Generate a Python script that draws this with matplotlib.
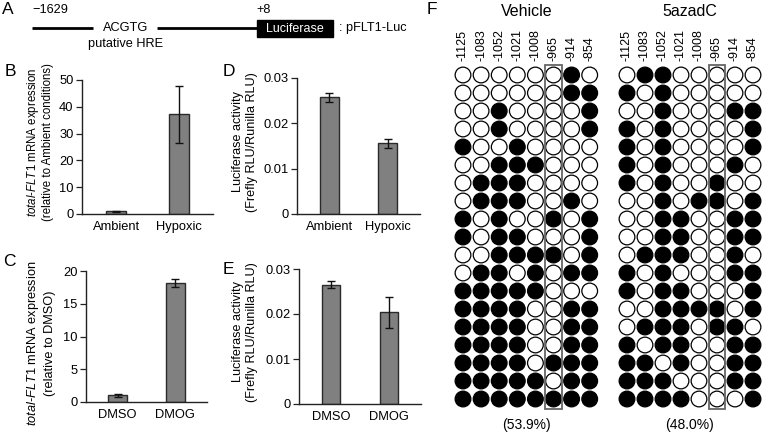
import matplotlib
matplotlib.use('Agg')
import matplotlib.pyplot as plt
from matplotlib.patches import Rectangle
import numpy as np

plt.rcParams['font.family'] = ['Liberation Sans', 'DejaVu Sans']
plt.rcParams['mathtext.fontset'] = 'custom'
plt.rcParams['mathtext.rm'] = 'Liberation Sans'
plt.rcParams['mathtext.it'] = 'Liberation Sans:italic'

# ---------------- data ----------------
b_cats = ['Ambient', 'Hypoxic']
b_vals = [1.0, 37.2]
b_errs = [0.3, 10.6]

c_cats = ['DMSO', 'DMOG']
c_vals = [1.0, 18.2]
c_errs = [0.2, 0.6]

d_cats = ['Ambient', 'Hypoxic']
d_vals = [0.0257, 0.0156]
d_errs = [0.0011, 0.0010]

e_cats = ['DMSO', 'DMOG']
e_vals = [0.0265, 0.0204]
e_errs = [0.0008, 0.0034]

cpg_sites = ['-1125', '-1083', '-1052', '-1021', '-1008', '-965', '-914', '-854']

vehicle_meth = [
    [0, 0, 0, 0, 0, 0, 1, 0],
    [0, 0, 0, 0, 0, 0, 1, 1],
    [0, 0, 1, 0, 0, 0, 0, 1],
    [0, 0, 1, 0, 0, 0, 0, 1],
    [1, 0, 0, 1, 0, 0, 0, 0],
    [0, 0, 1, 1, 1, 0, 0, 0],
    [0, 1, 1, 1, 0, 0, 0, 0],
    [0, 1, 1, 1, 0, 0, 1, 0],
    [1, 0, 1, 0, 0, 1, 0, 1],
    [1, 0, 1, 1, 0, 0, 0, 1],
    [0, 0, 1, 1, 1, 1, 0, 1],
    [0, 1, 1, 0, 1, 0, 1, 1],
    [1, 1, 1, 1, 1, 0, 0, 0],
    [1, 1, 1, 1, 0, 0, 1, 1],
    [1, 1, 1, 1, 0, 0, 1, 1],
    [1, 1, 1, 1, 0, 0, 1, 1],
    [1, 1, 1, 1, 0, 1, 1, 1],
    [1, 1, 1, 1, 1, 0, 1, 1],
    [1, 1, 1, 1, 1, 1, 1, 1],
]

azadc_meth = [
    [0, 1, 1, 0, 0, 0, 0, 0],
    [1, 0, 1, 0, 0, 0, 0, 0],
    [0, 0, 1, 0, 0, 0, 1, 1],
    [1, 0, 1, 0, 0, 0, 0, 1],
    [1, 0, 1, 0, 0, 0, 0, 1],
    [1, 0, 1, 0, 0, 0, 1, 0],
    [1, 0, 1, 0, 0, 1, 0, 0],
    [0, 0, 1, 0, 1, 1, 0, 1],
    [0, 0, 1, 1, 0, 0, 1, 1],
    [0, 0, 1, 1, 0, 0, 1, 1],
    [0, 1, 1, 1, 0, 0, 1, 0],
    [1, 0, 1, 0, 0, 0, 1, 1],
    [1, 0, 1, 1, 0, 0, 0, 1],
    [0, 0, 1, 1, 1, 1, 0, 1],
    [0, 1, 1, 1, 0, 1, 1, 0],
    [1, 0, 1, 1, 0, 0, 1, 1],
    [1, 1, 0, 1, 0, 0, 1, 1],
    [1, 1, 1, 0, 0, 0, 1, 1],
    [1, 1, 1, 1, 0, 0, 0, 1],
]

vehicle_title = 'Vehicle'
azadc_title = '5azadC'
vehicle_pct = '(53.9%)'
azadc_pct = '(48.0%)'

# ---------------- layout helpers ----------------
W, H = 764, 434
fig = plt.figure(figsize=(W / 100, H / 100), dpi=100)


def rect(x0, y0, x1, y1):
    return [x0 / W, 1 - y1 / H, (x1 - x0) / W, (y1 - y0) / H]


def fx(x):
    return x / W


def fy(y):
    return 1 - y / H


# ---------------- panel A (schematic) ----------------
axA = fig.add_axes([0, 0, 1, 1])
axA.set_xlim(0, W)
axA.set_ylim(H, 0)
axA.axis('off')
axA.plot([32, 93], [28, 28], color='black', lw=2.0, solid_capstyle='butt')
axA.plot([157, 258], [28, 28], color='black', lw=2.0, solid_capstyle='butt')
axA.add_patch(Rectangle((257, 20), 76, 17, facecolor='black', edgecolor='black'))
axA.text(295, 28.5, 'Luciferase', color='white', ha='center', va='center', fontsize=9)
axA.text(32, 10, '\u22121629', ha='left', va='center', fontsize=9.2)
axA.text(256, 10, '+8', ha='left', va='center', fontsize=9.2)
axA.text(126, 28, 'ACGTG', ha='center', va='center', fontsize=9.2)
axA.text(126, 43.5, 'putative HRE', ha='center', va='center', fontsize=9.2)
axA.text(339, 28, ': pFLT1-Luc', ha='left', va='center', fontsize=9.2)

# panel letters
for letter, (x, y) in {'A': (8, 10), 'B': (10, 71), 'C': (9, 262),
                       'D': (229, 71), 'E': (228, 270), 'F': (432, 10)}.items():
    fig.text(fx(x), fy(y), letter, ha='center', va='center', fontsize=12.5)


# ---------------- bar panels ----------------
def bar_panel(box, cats, vals, errs, ymax, yticks, yticklabels):
    ax = fig.add_axes(rect(*box))
    x = np.arange(len(cats))
    ax.bar(x, vals, width=0.32, color='#808080', edgecolor='#2a2a2a',
           linewidth=1.0, zorder=2)
    ax.errorbar(x, vals, yerr=errs, fmt='none', ecolor='#111111',
                elinewidth=1.0, capsize=3, capthick=1.0, zorder=3)
    ax.set_xlim(-0.55, 1.55)
    ax.set_ylim(0, ymax)
    ax.set_xticks(x)
    ax.set_xticklabels(cats)
    ax.set_yticks(yticks)
    ax.set_yticklabels(yticklabels)
    for s in ['top', 'right']:
        ax.spines[s].set_visible(False)
    for s in ['left', 'bottom']:
        ax.spines[s].set_linewidth(1.0)
        ax.spines[s].set_color('#222222')
    ax.tick_params(axis='x', length=0, pad=5, labelsize=9.3)
    ax.tick_params(axis='y', length=4, width=0.9, pad=2, labelsize=9.3,
                   direction='out', color='#222222')
    ax.set_facecolor('none')
    return ax


bar_panel((82, 80, 213, 214), b_cats, b_vals, b_errs, 50,
          [0, 10, 20, 30, 40, 50], ['0', '10', '20', '30', '40', '50'])
bar_panel((86, 271, 207, 402), c_cats, c_vals, c_errs, 20,
          [0, 5, 10, 15, 20], ['0', '5', '10', '15', '20'])
bar_panel((297, 78, 420, 214), d_cats, d_vals, d_errs, 0.03,
          [0, 0.01, 0.02, 0.03], ['0', '0.01', '0.02', '0.03'])
bar_panel((299, 269, 421, 404), e_cats, e_vals, e_errs, 0.03,
          [0, 0.01, 0.02, 0.03], ['0', '0.01', '0.02', '0.03'])


def ylab(x, y, s, size):
    fig.text(fx(x), fy(y), s, rotation=90, ha='center', va='center', fontsize=size)


flt1 = r'$\it{total}$-$\it{FLT1}$ mRNA expression'
ylab(33, 142, flt1, 8.3)
ylab(48, 142, '(relative to Ambient conditions)', 8.3)
ylab(33, 343, flt1, 9.2)
ylab(50, 343, '(relative to DMSO)', 9.2)
ylab(238, 142, 'Luciferase activity', 9.1)
ylab(252, 142, '(Frefly RLU/Runilla RLU)', 9.1)
ylab(238, 332, 'Luciferase activity', 9.1)
ylab(252, 332, '(Frefly RLU/Runilla RLU)', 9.1)


# ---------------- panel F (methylation grids) ----------------
def meth_grid(x_first, x_step, title, pct, data):
    data = np.array(data)
    nrow, ncol = data.shape
    y_top = 66
    y_step = 18.0
    x0 = x_first - x_step / 2
    x1 = x0 + ncol * x_step
    y1 = y_top + nrow * y_step
    ax = fig.add_axes(rect(x0, y_top, x1, y1))
    ax.set_xlim(-0.5, ncol - 0.5)
    ax.set_ylim(nrow - 0.5, -0.5)
    ax.axis('off')
    jj, ii = np.meshgrid(np.arange(nrow), np.arange(ncol), indexing='ij')
    colors = np.where(data.ravel() == 1, 'black', 'white')
    ax.scatter(ii.ravel(), jj.ravel(), s=128, c=colors, edgecolors='black',
               linewidths=0.9, zorder=2, clip_on=False)
    box_col = cpg_sites.index('-965')
    ax.add_patch(Rectangle((box_col - 0.47, -0.56), 0.94, nrow + 0.12,
                           fill=False, edgecolor='#666666', lw=1.3, zorder=3,
                           clip_on=False))
    for i, lab in enumerate(cpg_sites):
        ax.text(i, -0.8, lab, rotation=90, ha='center', va='bottom', fontsize=9)
    xc = (x0 + x1) / 2
    fig.text(fx(xc), fy(11), title, ha='center', va='center', fontsize=11.5)
    fig.text(fx(xc), fy(425), pct, ha='center', va='center', fontsize=10)


meth_grid(463, 18.1, vehicle_title, vehicle_pct, vehicle_meth)
meth_grid(627, 18.0, azadc_title, azadc_pct, azadc_meth)

fig.savefig('out.png', dpi=100)
